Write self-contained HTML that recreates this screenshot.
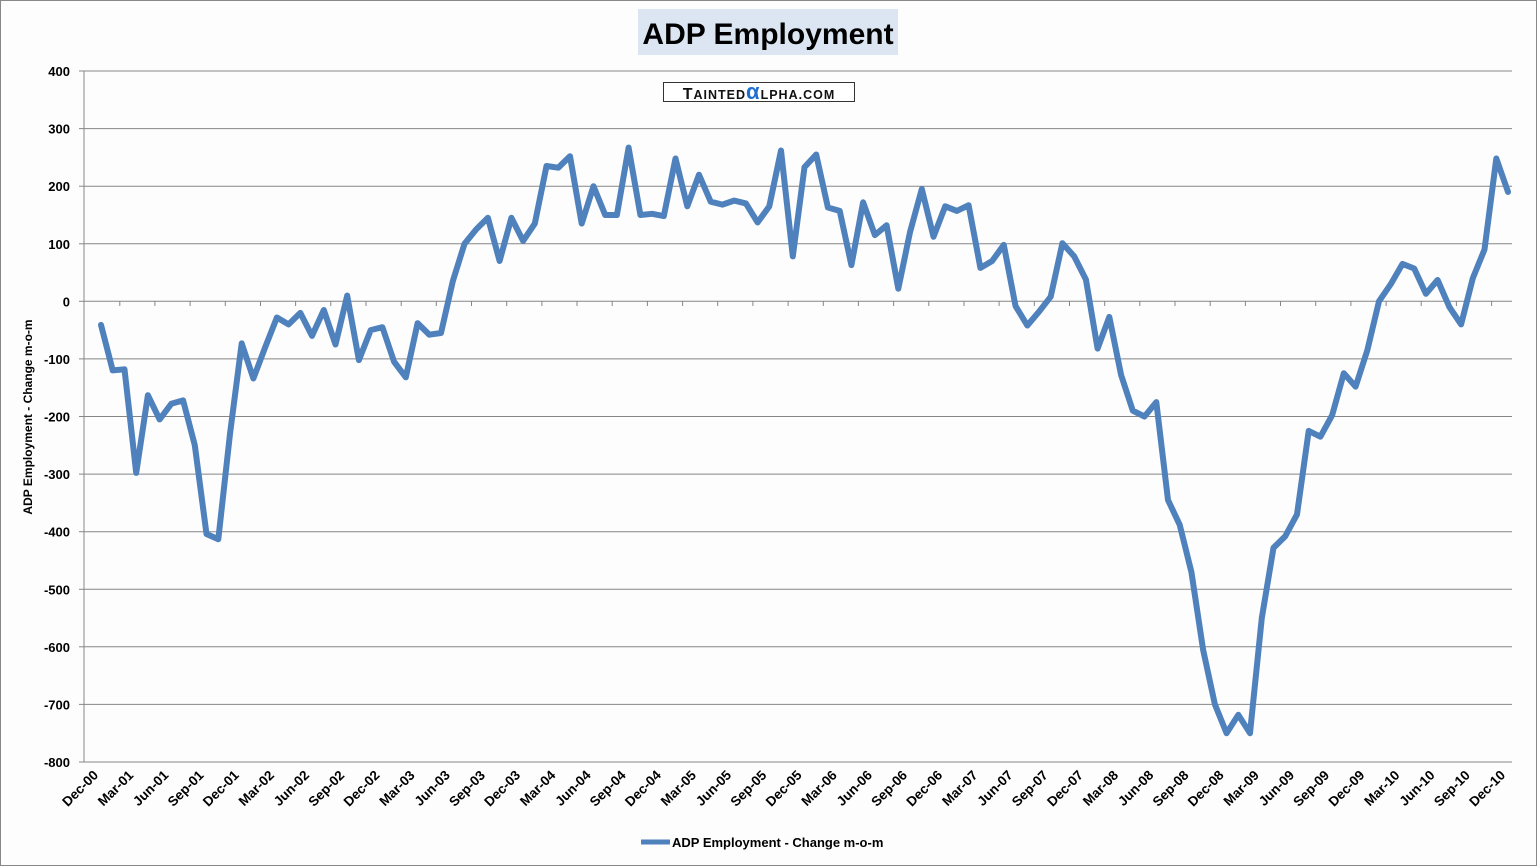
<!DOCTYPE html>
<html><head><meta charset="utf-8"><style>
body{margin:0;background:#fff}
svg{display:block}
text{font-family:"Liberation Sans",sans-serif}
</style></head><body>
<svg id="s" width="1537" height="866" xmlns="http://www.w3.org/2000/svg">
<rect x="0.5" y="0.5" width="1536" height="865" fill="#fcfdfc" stroke="#888"/>
<rect x="638" y="9" width="260" height="46" fill="#dce6f2"/>
<text x="768" y="44" text-anchor="middle" font-size="30" font-weight="bold" fill="#000">ADP Employment</text>
<g id="grid"></g>
<rect x="663.5" y="82.5" width="191" height="19" fill="#fff" stroke="#333"/>
<text x="759" y="99" text-anchor="middle" font-size="16" font-weight="bold" fill="#111" letter-spacing="1">T<tspan font-size="12.5">AINTED</tspan><tspan fill="#1f6fd0" font-size="22" font-weight="bold">α</tspan><tspan font-size="12.5">LPHA.COM</tspan></text>
<text transform="translate(32,417) rotate(-90)" text-anchor="middle" font-size="12" font-weight="bold">ADP Employment - Change m-o-m</text>
<line x1="641" y1="842" x2="670" y2="842" stroke="#4f81bd" stroke-width="5"/>
<text x="672" y="847" font-size="13" font-weight="bold">ADP Employment - Change m-o-m</text>
</svg>
<script>
var v=[-41,-120,-118,-298,-163,-205,-178,-172,-250,-404,-413,-230,-73,-134,-80,-28,-40,-20,-60,-15,-75,10,-102,-50,-45,-105,-132,-38,-58,-55,35,100,125,145,70,145,105,135,235,232,252,135,200,150,150,267,150,152,148,248,165,220,173,168,175,170,137,165,262,78,233,255,163,157,63,172,115,132,22,120,195,112,165,157,167,58,70,98,-8,-42,-18,8,101,78,38,-82,-27,-128,-190,-200,-175,-345,-388,-470,-605,-700,-750,-718,-750,-550,-428,-408,-370,-225,-235,-198,-125,-148,-85,0,30,65,57,13,37,-10,-40,40,90,248,190];
var n=v.length,x0=101,x1=1508,dx=(x1-x0)/(n-1);
function Y(val){return 71+(400-val)*691/1200;}
var g='';
for(var k=400;k>=-800;k-=100){var y=Y(k).toFixed(1);
g+='<line x1="84" y1="'+y+'" x2="1512" y2="'+y+'" stroke="#868686"/>';
g+='<line x1="79" y1="'+y+'" x2="84" y2="'+y+'" stroke="#868686"/>';
g+='<text x="70" y="'+(Y(k)+5)+'" text-anchor="end" font-size="13" font-weight="bold">'+k+'</text>';}
g+='<line x1="84" y1="71" x2="84" y2="762" stroke="#868686"/>';
var mon=['Dec','Mar','Jun','Sep'];
for(var i=0;i<n;i+=3){var x=x0+i*dx;var t=i/3;var yr=Math.floor((i+11)/12)%100;
var lab=mon[t%4]+'-'+(yr<10?'0':'')+yr;
var tx=x+dx*1.6; if(tx<1512) g+='<line x1="'+tx.toFixed(1)+'" y1="301.3" x2="'+tx.toFixed(1)+'" y2="306" stroke="#868686"/>';
g+='<text transform="translate('+(x-2).toFixed(1)+',776) rotate(-45)" text-anchor="end" font-size="13.5" font-weight="bold">'+lab+'</text>';}
var p='';for(var i=0;i<n;i++){p+=(i?'L':'M')+(x0+i*dx).toFixed(1)+','+Y(v[i]).toFixed(1);}
g+='<path d="'+p+'" fill="none" stroke="#4f81bd" stroke-width="6" stroke-linejoin="round" stroke-linecap="round"/>';
document.getElementById('grid').innerHTML=g;
</script>
</body></html>
